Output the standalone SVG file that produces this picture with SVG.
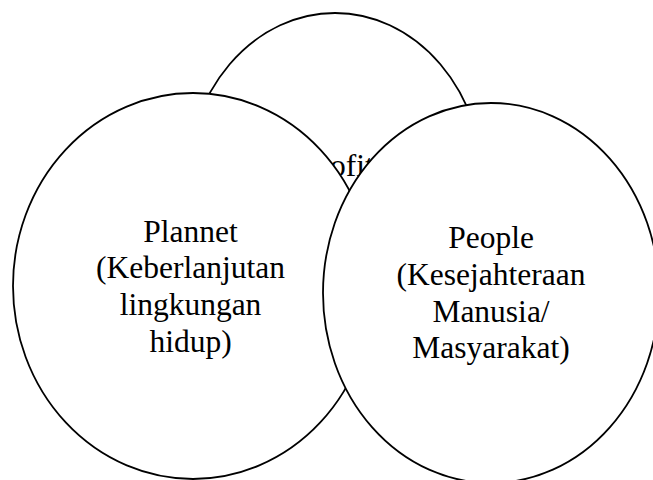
<svg xmlns="http://www.w3.org/2000/svg" width="653" height="480" viewBox="0 0 653 480">
<style>
.c{fill:#fff;stroke:#000;stroke-width:1.8}
.t{font-family:'Liberation Serif','Times New Roman',serif;font-size:31.5px;fill:#000;text-anchor:middle}
</style>
<rect width="653" height="480" fill="#fff"/>
<g id="profit">
<ellipse class="c" cx="335" cy="188" rx="149" ry="175"/>
<text class="t" x="338" y="176">Profit</text>
</g>
<g id="plannet">
<ellipse class="c" cx="193" cy="286" rx="180" ry="193"/>
<text class="t" x="190.5" y="242">Plannet</text>
<text class="t" x="190.5" y="278">(Keberlanjutan</text>
<text class="t" x="190.5" y="315">lingkungan</text>
<text class="t" x="190.5" y="352">hidup)</text>
</g>
<g id="people">
<ellipse class="c" cx="491" cy="293" rx="168" ry="190"/>
<text class="t" x="491" y="248">People</text>
<text class="t" x="491" y="285">(Kesejahteraan</text>
<text class="t" x="491" y="322">Manusia/</text>
<text class="t" x="491" y="358">Masyarakat)</text>
</g>
<g id="connectors"/>
</svg>
